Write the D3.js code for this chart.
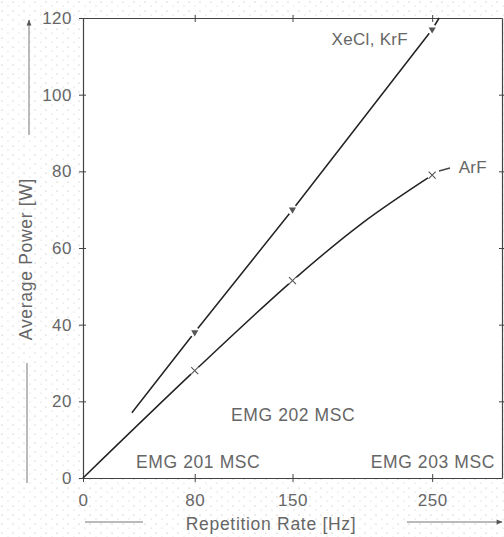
<!DOCTYPE html>
<html>
<head>
<meta charset="utf-8">
<script src="https://cdn.jsdelivr.net/npm/d3@7"></script>
<style>
  html, body { margin: 0; padding: 0; background: #fff; }
  svg { display: block; }
  text { font-family: "Liberation Sans", Arial, sans-serif; fill: #666; }
</style>
</head>
<body>
<svg id="chart" width="504" height="537"></svg>
<script>
// ---- data ----
const xTicks = [0, 80, 150, 250];
const yTicks = [0, 20, 40, 60, 80, 100, 120];
const xeclLine = [[35, 17], [80, 38], [150, 70], [250, 117], [255, 120]];
const xeclPoints = [[80, 38], [150, 70], [250, 117]];
const arfLine = [[0, 0], [80, 28], [150, 51.5], [200, 66.5], [250, 79]];
const arfPoints = [[80, 28], [150, 51.5], [250, 79]];
const regionLabels = [
  { text: "EMG 202 MSC", x: 106, y: 16.4 },
  { text: "EMG 201 MSC", x: 38, y: 4.2 },
  { text: "EMG 203 MSC", x: 206, y: 4.2 }
];
const seriesLabels = [
  { text: "XeCl, KrF", x: 178, y: 114.5 },
  { text: "ArF", x: 269, y: 81 }
];

// ---- layout ----
const svg = d3.select("#chart");
const x = d3.scaleLinear().domain([0, 300]).range([83, 502]);
const y = d3.scaleLinear().domain([0, 120]).range([478, 18]);
const axisColor = "#444";

// outer stipple to mimic the scan texture
const defs = svg.append("defs");
const pat = defs.append("pattern").attr("id", "dots").attr("width", 11).attr("height", 9)
  .attr("patternUnits", "userSpaceOnUse");
pat.append("circle").attr("cx", 2).attr("cy", 2).attr("r", 0.6).attr("fill", "#aaa");
pat.append("circle").attr("cx", 8).attr("cy", 6).attr("r", 0.5).attr("fill", "#bbb");
svg.append("rect").attr("width", 504).attr("height", 537).attr("fill", "url(#dots)");
svg.append("rect").attr("x", x(0)).attr("y", y(120))
  .attr("width", x(300) - x(0)).attr("height", y(0) - y(120)).attr("fill", "#fff");

// axes (ticks crossing the frame)
const tickOpts = (ax) => ax.tickSizeInner(4).tickSizeOuter(0);
const gBottom = svg.append("g").attr("transform", `translate(0,${y(0)})`)
  .call(tickOpts(d3.axisBottom(x).tickValues(xTicks)).tickFormat(d3.format("d")).tickPadding(12));
const gTop = svg.append("g").attr("transform", `translate(0,${y(120)})`)
  .call(tickOpts(d3.axisTop(x).tickValues(xTicks.slice(1))).tickFormat(""));
const gLeft = svg.append("g").attr("transform", `translate(${x(0)},0)`)
  .call(tickOpts(d3.axisLeft(y).tickValues(yTicks)).tickFormat(d3.format("d")).tickPadding(7));
const gRight = svg.append("g").attr("transform", `translate(${x(300)},0)`)
  .call(tickOpts(d3.axisRight(y).tickValues(yTicks.slice(1, -1))).tickFormat(""));

[gBottom, gTop, gLeft, gRight].forEach(g => {
  g.select(".domain").attr("stroke", axisColor).attr("stroke-width", 1.2);
  g.selectAll(".tick line").attr("stroke", axisColor).attr("stroke-width", 1);
  g.selectAll("text").attr("fill", "#666").style("font-size", "17px")
    .style("font-family", '"Liberation Sans", Arial, sans-serif').style("letter-spacing", "0.5px");
});
// make ticks cross the axis line
gBottom.selectAll(".tick line").attr("y1", -4).attr("y2", 4);
gTop.selectAll(".tick line").attr("y1", -3).attr("y2", 4);
gLeft.selectAll(".tick line").attr("x1", -4).attr("x2", 3);
gRight.selectAll(".tick line").attr("x1", -3).attr("x2", 3);

// axis titles
svg.append("text").attr("x", 271).attr("y", 530).attr("text-anchor", "middle")
  .style("font-size", "17.5px").style("letter-spacing", "0.7px").text("Repetition Rate [Hz]");
svg.append("text").attr("transform", "translate(32,259) rotate(-90)").attr("text-anchor", "middle")
  .style("font-size", "17.5px").style("letter-spacing", "0.7px").text("Average Power [W]");

// arrow decorations next to the titles
const arrowColor = "#777";
defs.append("marker").attr("id", "arrow").attr("viewBox", "0 0 10 10").attr("refX", 9).attr("refY", 5)
  .attr("markerWidth", 14).attr("markerHeight", 6).attr("markerUnits", "userSpaceOnUse")
  .attr("orient", "auto")
  .append("path").attr("d", "M0,1 L10,5 L0,9 Z").attr("fill", "#555");
svg.append("line").attr("x1", 29).attr("y1", 135).attr("x2", 29).attr("y2", 20)
  .attr("stroke", arrowColor).attr("stroke-width", 1).attr("marker-end", "url(#arrow)");
svg.append("line").attr("x1", 27).attr("y1", 363).attr("x2", 27).attr("y2", 483)
  .attr("stroke", arrowColor).attr("stroke-width", 1);
svg.append("line").attr("x1", 85).attr("y1", 522).attr("x2", 143).attr("y2", 522)
  .attr("stroke", arrowColor).attr("stroke-width", 1);
svg.append("line").attr("x1", 407).attr("y1", 522).attr("x2", 502).attr("y2", 522)
  .attr("stroke", arrowColor).attr("stroke-width", 1).attr("marker-end", "url(#arrow)");

// series lines
const lineLin = d3.line().x(d => x(d[0])).y(d => y(d[1]));
const lineCurve = d3.line().x(d => x(d[0])).y(d => y(d[1])).curve(d3.curveCatmullRom.alpha(0.5));
svg.append("path").datum(xeclLine).attr("d", lineLin)
  .attr("fill", "none").attr("stroke", "#222").attr("stroke-width", 1.5);
svg.append("path").datum(arfLine).attr("d", lineCurve)
  .attr("fill", "none").attr("stroke", "#222").attr("stroke-width", 1.5);

// markers with white halo to leave gaps in the line
const tri = d3.symbol().type(d3.symbolTriangle).size(22);
svg.append("g").selectAll("circle").data(xeclPoints).join("circle")
  .attr("cx", d => x(d[0])).attr("cy", d => y(d[1])).attr("r", 5).attr("fill", "#fff");
svg.append("g").selectAll("path").data(xeclPoints).join("path")
  .attr("d", tri).attr("transform", d => `translate(${x(d[0])},${y(d[1])}) rotate(180)`)
  .attr("fill", "#555");
svg.append("g").selectAll("circle").data(arfPoints).join("circle")
  .attr("cx", d => x(d[0])).attr("cy", d => y(d[1])).attr("r", 5).attr("fill", "#fff");
svg.append("g").selectAll("path").data(arfPoints).join("path")
  .attr("d", d => {
    const s = 3.5, cx = x(d[0]), cy = y(d[1]);
    return `M${cx - s},${cy - s}L${cx + s},${cy + s}M${cx - s},${cy + s}L${cx + s},${cy - s}`;
  })
  .attr("stroke", "#555").attr("stroke-width", 1.1).attr("fill", "none");

// ArF leader dash
svg.append("line").attr("x1", 439).attr("y1", 171).attr("x2", 450).attr("y2", 168)
  .attr("stroke", "#444").attr("stroke-width", 1.3);

// labels
svg.append("g").selectAll("text").data(seriesLabels).join("text")
  .attr("x", d => x(d.x)).attr("y", d => y(d.y)).attr("dy", "0.35em")
  .style("font-size", "17px").style("letter-spacing", "0.3px").text(d => d.text);
svg.append("g").selectAll("text").data(regionLabels).join("text")
  .attr("x", d => x(d.x)).attr("y", d => y(d.y)).attr("dy", "0.35em")
  .style("font-size", "17.5px").style("letter-spacing", "0.6px").text(d => d.text);
</script>
</body>
</html>
